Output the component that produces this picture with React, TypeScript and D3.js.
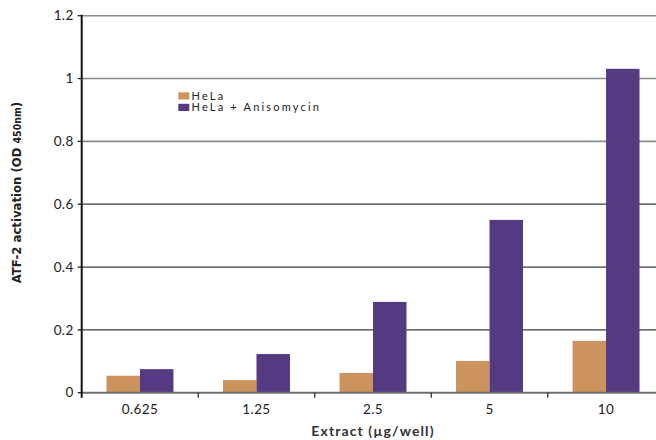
import React from "react";
import * as d3 from "d3";

const categories = ["0.625", "1.25", "2.5", "5", "10"];
const seriesNames = ["HeLa", "HeLa + Anisomycin"];
const helaValues = [0.054, 0.04, 0.063, 0.101, 0.165];
const anisoValues = [0.075, 0.123, 0.289, 0.55, 1.031];
const yTicks = [0, 0.2, 0.4, 0.6, 0.8, 1, 1.2];
const colors = ["#CC935E", "#543A80"];

const W = 656;
const H = 440;
const left = 81.7;
const right = 664.3;
const top = 15.7;
const bottom = 392.7;

export default function App() {
  const x = d3.scaleBand<string>().domain(categories).range([left, right]).padding(0);
  const x1 = d3
    .scaleBand<string>()
    .domain(seriesNames)
    .range([0, x.bandwidth()])
    .paddingInner(0)
    .paddingOuter(0.74);
  const y = d3.scaleLinear().domain([0, 1.2]).range([bottom, top]);
  const data = [helaValues, anisoValues];
  const font = "Lato, 'Open Sans', sans-serif";

  return (
    <svg
      width={W}
      height={H}
      style={{ position: "absolute", left: 0, top: 0, background: "#fff" }}
      fontFamily={font}
    >
      {yTicks.filter((t) => t > 0).map((t) => (
        <line
          key={"g" + t}
          x1={left}
          x2={W}
          y1={y(t)}
          y2={y(t)}
          stroke={t >= 0.8 ? "#8a8a8a" : "#3a3a3a"}
          strokeWidth={t >= 0.8 ? 1.6 : 1.2}
        />
      ))}
      {data.map((vals, si) =>
        vals.map((v, ci) => (
          <rect
            key={si + "-" + ci}
            x={(x(categories[ci]) as number) + (x1(seriesNames[si]) as number)}
            y={y(v)}
            width={x1.bandwidth()}
            height={bottom - y(v)}
            fill={colors[si]}
          />
        ))
      )}
      <line x1={left} x2={W} y1={bottom} y2={bottom} stroke="#6e6e6e" strokeWidth={2} />
      {categories.map((c, i) =>
        i === 0 ? null : (
          <line
            key={"xt" + c}
            x1={x(c) as number}
            x2={x(c) as number}
            y1={bottom}
            y2={bottom + 5}
            stroke="#222"
            strokeWidth={1.2}
          />
        )
      )}
      <line x1={left} x2={left} y1={top - 1} y2={bottom + 5} stroke="#111" strokeWidth={2} />
      {yTicks.map((t) => (
        <g key={"yt" + t}>
          <line x1={left - 4} x2={left} y1={y(t)} y2={y(t)} stroke="#111" strokeWidth={1.2} />
          <text
            x={left - 8}
            y={y(t)}
            dy="0.35em"
            textAnchor="end"
            fontSize={13.5}
            letterSpacing={0.4}
            fill="#222"
          >
            {d3.format("")(t)}
          </text>
        </g>
      ))}
      {categories.map((c) => (
        <text
          key={"xl" + c}
          x={(x(c) as number) + x.bandwidth() / 2}
          y={414}
          textAnchor="middle"
          fontSize={13.5}
          letterSpacing={0.4}
          fill="#222"
        >
          {c}
        </text>
      ))}
      <text
        x={373}
        y={436}
        textAnchor="middle"
        fontSize={14}
        fontWeight="bold"
        letterSpacing={1.1}
        fill="#333"
      >
        Extract (µg/well)
      </text>
      <text
        transform={`translate(21,${(100 + 285) / 2}) rotate(-90)`}
        textAnchor="middle"
        fontSize={13}
        fontWeight="bold"
        fill="#222"
        fontFamily="'Liberation Sans Narrow', 'DejaVu Sans Condensed', Lato, sans-serif"
      >
        ATF-2 activation (OD <tspan fontSize={10.5}>450nm</tspan>)
      </text>
      {seriesNames.map((s, i) => (
        <g key={"lg" + s}>
          <rect x={178.3} y={92.3 + i * 11.5} width={11} height={7.2} fill={colors[i]} />
          <text x={191.5} y={99.5 + i * 11.5} fontSize={11} letterSpacing={2.2} fill="#222">
            {s}
          </text>
        </g>
      ))}
    </svg>
  );
}
